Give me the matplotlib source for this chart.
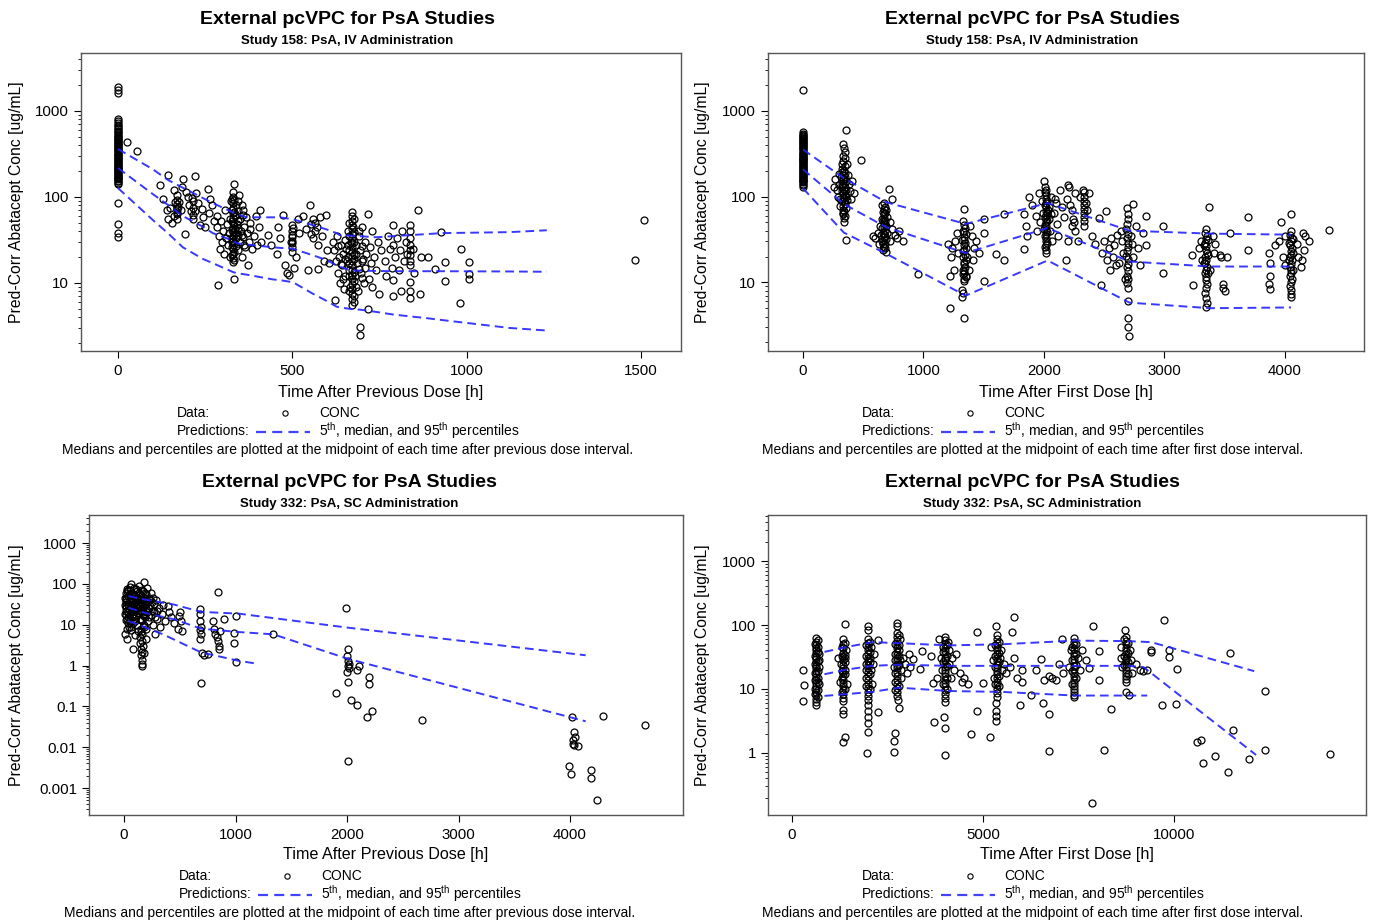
import numpy as np
import matplotlib
matplotlib.use('Agg')
import matplotlib.pyplot as plt
from matplotlib.lines import Line2D
from matplotlib.ticker import FixedLocator, FixedFormatter, LogLocator, NullFormatter

plt.rcParams['font.family'] = ['Liberation Sans', 'DejaVu Sans']
plt.rcParams['mathtext.fontset'] = 'custom'
plt.rcParams['mathtext.rm'] = 'Liberation Sans'

# ---------------- data ----------------
# Study 158, time after previous dose: (time h, pred-corr conc)
tl_obs = [
    (0, 1900), (0, 1750), (0, 1600), (0, 800), (0, 720), (0, 660), (0, 610), (0, 570), (0, 530), (0, 500),
    (0, 470), (0, 445), (0, 420), (0, 400), (0, 380), (0, 360), (0, 340), (0, 320), (0, 305), (0, 290),
    (0, 275), (0, 262), (0, 250), (0, 238), (0, 226), (0, 215), (0, 205), (0, 195), (0, 186), (0, 177),
    (0, 168), (0, 160), (0, 152), (0, 145), (0, 140), (0, 85), (0, 48), (0, 38), (0, 34), (25, 430), (55, 340),
    (0, 155), (0, 164), (0, 172), (0, 182), (0, 190), (0, 200), (0, 210), (0, 220), (0, 232), (0, 244),
    (0, 256), (0, 268), (0, 282), (0, 297), (0, 312), (0, 330), (0, 350), (0, 370), (0, 390), (0, 410),
    (0, 432), (0, 458), (0, 485), (0, 515), (0, 550), (0, 590), (0, 640), (0, 690), (0, 760),
    (120, 138), (143, 180), (187, 162), (221, 174), (168, 105), (168, 92), (168, 82), (168, 72), (168, 63),
    (168, 56), (143, 55), (150, 75), (160, 60), (175, 88), (180, 70), (192, 37), (200, 100), (205, 80),
    (210, 68), (215, 90), (215, 75), (215, 62), (215, 55), (225, 110), (230, 85), (235, 47), (240, 72),
    (245, 58), (258, 123), (260, 65), (265, 95), (270, 80), (275, 52), (250, 45), (185, 130), (195, 115),
    (160, 120), (130, 95), (140, 70), (155, 50), (165, 88), (170, 66), (172, 77), (220, 68), (212, 96),
    (283, 60), (285, 45), (287, 9.5), (290, 35), (292, 25), (295, 52), (298, 30), (300, 40), (305, 22),
    (308, 70), (310, 33), (312, 48), (315, 28), (318, 38), (320, 20), (322, 55), (325, 90), (328, 30),
    (330, 115), (330, 100), (330, 85), (330, 75), (330, 65), (330, 57), (330, 50), (330, 44), (330, 39),
    (330, 35), (330, 31), (330, 28), (330, 25), (330, 22), (330, 19.5), (330, 17.5), (332, 142), (332, 11),
    (335, 60), (336, 42), (338, 33), (340, 27), (340, 80), (342, 48), (345, 36), (345, 24), (348, 105),
    (350, 55), (350, 30), (352, 40), (355, 20), (358, 70), (360, 34), (362, 45), (365, 26), (368, 58),
    (370, 38), (372, 16), (375, 30), (378, 50), (380, 42), (385, 25), (390, 35), (395, 60), (398, 28),
    (405, 45), (410, 30), (326, 95), (326, 70), (326, 53), (326, 41), (326, 33), (326, 26), (326, 21),
    (334, 92), (334, 67), (334, 47), (334, 37), (334, 29), (334, 23), (334, 18.5), (340, 62), (340, 38),
    (345, 90), (345, 68), (345, 52), (345, 44), (355, 80), (355, 36), (360, 62), (362, 28),
    (407, 70), (430, 36), (440, 28), (455, 22), (460, 45), (465, 33), (473, 62), (480, 16), (485, 13),
    (490, 12.5), (495, 30), (500, 47), (500, 40), (500, 34), (500, 29), (500, 26), (500, 23), (505, 15),
    (510, 20), (515, 55), (520, 38), (530, 60), (540, 42), (545, 14), (550, 81), (555, 48), (560, 55),
    (560, 33), (565, 40), (570, 45), (573, 14.6), (575, 28), (580, 58), (585, 35), (590, 18), (598, 62),
    (600, 24), (605, 17), (500, 36), (500, 31), (503, 43), (555, 37), (565, 50),
    (617, 30), (620, 24), (622, 6.3), (625, 18), (628, 35), (630, 13), (632, 27), (635, 20), (638, 10),
    (640, 28), (642, 16), (645, 22), (648, 8.5), (650, 32), (652, 12), (655, 25), (658, 18), (660, 40),
    (662, 14), (665, 9), (668, 30), (670, 67), (670, 60), (670, 53), (670, 47), (670, 42), (670, 37),
    (670, 33), (670, 29), (670, 26), (670, 23), (670, 20.5), (670, 18), (670, 16), (670, 14), (670, 12.5),
    (670, 11), (670, 9.8), (670, 8.6), (670, 7.5), (670, 6.5), (670, 5.5), (675, 45), (678, 21), (680, 12),
    (682, 28), (685, 17), (688, 8), (690, 35), (693, 3.1), (693, 2.5), (695, 24), (698, 13), (700, 45),
    (702, 19), (705, 10), (708, 30), (710, 15), (712, 22), (716, 63), (716, 5.0), (720, 11), (722, 26),
    (725, 17), (728, 40), (730, 9), (735, 20), (740, 14), (745, 30), (750, 7.5), (755, 24),
    (664, 50), (664, 35), (664, 24), (664, 17), (664, 12), (664, 8), (676, 55), (676, 39), (676, 30),
    (676, 19), (676, 13.5), (676, 10.5), (676, 7), (676, 6), (660, 20), (684, 22), (684, 9), (690, 14.5),
    (650, 19), (645, 11), (700, 27), (700, 11.5), (640, 16.5), (660, 28), (690, 40), (700, 18),
    (765, 18), (770, 12), (775, 35), (780, 25), (785, 15), (788, 47), (788, 10.7), (788, 7), (790, 28),
    (795, 20), (800, 33), (805, 14), (810, 24), (812, 8), (815, 40), (820, 18), (825, 30), (830, 22),
    (837, 47), (837, 40), (837, 33), (837, 28), (837, 24), (837, 21), (837, 18), (837, 16), (837, 10.3),
    (837, 8), (837, 6.6), (845, 25), (850, 13), (860, 71), (865, 7.5), (870, 20), (888, 20), (908, 14.6),
    (928, 39), (937, 17.5), (937, 10.6), (985, 25), (982, 5.8), (1006, 17.5), (1006, 12.8), (1006, 11),
    (1484, 18.5), (1510, 54),
]
tl_pct_t = [0, 100, 143, 186, 244, 272, 330, 341, 369, 444, 464, 502, 559, 598, 627, 636, 665, 693, 742, 788, 885, 931, 1123, 1230]
tl_p95 = [361, 210, 158, 128, 97, 85, 66, 63, 58, 58, 58, 55, 47, 42, 38, 36, 35.5, 35, 34, 35, 37, 38, 39, 41]
tl_p50 = [217, 108, 81, 60, 45, 38, 31, 29, 28, 26, 25.6, 25, 21, 18.5, 16, 15.5, 14, 13.9, 13.8, 13.7, 13.7, 13.7, 13.6, 13.5]
tl_p05 = [127, 54, 38, 26, 19, 17, 13.4, 13, 12.5, 11, 10.8, 10.2, 7.5, 6.2, 5.3, 5.2, 5.0, 4.9, 4.6, 4.3, 3.9, 3.7, 3.0, 2.8]

# Study 158, time after first dose
tr_obs = [
    (0, 1750), (0, 570), (0, 540), (0, 510), (0, 480), (0, 455), (0, 430), (0, 405), (0, 385), (0, 365),
    (0, 345), (0, 325), (0, 308), (0, 292), (0, 278), (0, 264), (0, 250), (0, 238), (0, 226), (0, 215),
    (0, 205), (0, 195), (0, 185), (0, 175), (0, 166), (0, 158), (0, 150), (0, 142), (0, 135), (0, 130),
    (0, 525), (0, 495), (0, 467), (0, 442), (0, 417), (0, 395), (0, 375), (0, 355), (0, 335), (0, 316),
    (0, 300), (0, 285), (0, 271), (0, 257), (0, 244), (0, 232), (0, 220), (0, 210), (0, 200), (0, 190),
    (0, 180), (0, 170), (0, 162), (0, 154), (0, 146),
    (357, 600), (332, 410), (340, 370), (345, 330), (330, 300), (350, 280), (335, 260), (325, 240), (345, 225),
    (320, 210), (338, 200), (350, 190), (330, 180), (315, 170), (342, 160), (355, 150), (328, 142), (300, 135),
    (345, 128), (360, 120), (320, 115), (335, 110), (350, 104), (290, 100), (340, 96), (365, 92), (325, 88),
    (345, 83), (310, 78), (355, 74), (335, 70), (330, 65), (350, 60), (338, 56), (342, 50), (380, 140),
    (390, 115), (400, 95), (410, 150), (375, 180), (270, 160), (280, 120), (260, 130), (357, 31), (481, 264),
    (420, 110), (300, 185), (365, 240), (330, 155), (336, 135), (340, 120), (332, 100), (338, 90), (330, 78),
    (344, 68), (334, 62), (348, 170), (326, 195), (352, 115), (340, 145), (360, 100), (322, 130), (310, 95),
    (714, 122), (742, 93), (672, 85), (660, 80), (680, 75), (690, 70), (665, 66), (675, 62), (700, 58),
    (655, 55), (685, 52), (670, 49), (690, 46), (660, 43), (680, 40), (700, 38), (650, 36), (675, 34),
    (690, 32), (660, 30), (680, 28), (672, 26), (665, 24), (690, 22.5), (640, 45), (620, 38), (600, 33),
    (580, 35), (630, 28), (720, 50), (740, 42), (760, 36), (780, 33), (830, 30.5), (800, 40), (720, 30),
    (954, 12.6), (672, 72), (672, 57), (672, 44), (672, 37), (672, 31), (682, 64), (682, 48), (682, 35),
    (682, 25), (664, 52), (664, 38), (664, 28),
    (1336, 72), (1330, 52), (1340, 47), (1345, 43), (1325, 40), (1350, 37), (1335, 34), (1320, 31),
    (1345, 29), (1338, 27), (1355, 25), (1330, 23), (1342, 21), (1325, 19.5), (1350, 18), (1335, 16.5),
    (1345, 15), (1328, 14), (1340, 13), (1355, 12), (1333, 11), (1340, 10.5), (1320, 8.1), (1330, 7.5),
    (1320, 6.8), (1220, 5), (1336, 3.8), (1260, 30), (1280, 38), (1240, 25), (1230, 20), (1200, 28),
    (1250, 14), (1220, 12), (1400, 35), (1420, 25), (1410, 18), (1440, 30), (1460, 22), (1380, 14),
    (1502, 55), (1502, 38), (1502, 10.5), (1602, 21.6), (1668, 18), (1668, 63), (1290, 22), (1390, 45),
    (1340, 39), (1340, 31), (1340, 24), (1340, 17.5), (1340, 13.5), (1350, 11.5), (1330, 12.5), (1360, 20),
    (1834, 63), (1834, 24.5), (1850, 45), (1860, 35), (1880, 100), (1900, 80), (1930, 60), (1960, 110),
    (1980, 90), (2000, 150), (2010, 130), (2017, 120), (2017, 105), (2017, 95), (2017, 85), (2017, 76),
    (2017, 68), (2017, 61), (2017, 55), (2017, 50), (2017, 45), (2017, 41), (2017, 37), (2017, 33),
    (2017, 30), (2017, 27), (2017, 24), (2017, 22), (2030, 70), (2040, 55), (2050, 40), (2060, 100),
    (2080, 65), (2100, 85), (2110, 48), (2130, 120), (2150, 75), (2170, 58), (2183, 18), (2190, 95),
    (2210, 130), (2230, 70), (2250, 50), (2260, 110), (1990, 65), (2000, 42), (1970, 50), (1940, 40),
    (2070, 30), (2120, 35), (2005, 112), (2005, 80), (2005, 58), (2005, 47), (2005, 35), (2005, 26),
    (2028, 90), (2028, 64), (2028, 52), (2028, 39), (2028, 29), (2040, 75), (2060, 62), (2090, 95),
    (2200, 135), (2220, 80), (2240, 55), (2260, 40), (2280, 30), (2300, 100), (2320, 120), (2332, 112),
    (2332, 100), (2332, 90), (2332, 80), (2332, 72), (2332, 64), (2332, 58), (2332, 52), (2332, 46),
    (2345, 85), (2360, 70), (2370, 110), (2200, 30), (2230, 45),
    (2400, 35), (2420, 28), (2456, 56), (2473, 9.2), (2480, 22), (2500, 30), (2514, 68), (2520, 18),
    (2540, 25), (2550, 14), (2560, 33), (2570, 20), (2580, 27), (2600, 16), (2610, 36),
    (2739, 82), (2690, 74), (2695, 62), (2700, 55), (2690, 48), (2685, 42), (2700, 37), (2690, 33),
    (2695, 29), (2700, 26), (2690, 23), (2685, 20.5), (2695, 18.5), (2700, 16.5), (2690, 15), (2695, 13.5),
    (2690, 12), (2700, 11), (2690, 9.8), (2695, 8.7), (2697, 6), (2697, 3.8), (2700, 3.0), (2705, 2.4),
    (2650, 30), (2660, 22), (2640, 40), (2720, 35), (2730, 28), (2740, 20), (2760, 45), (2780, 25),
    (2846, 60), (2846, 27), (2988, 45), (2988, 13), (2800, 16), (2820, 38), (2620, 17), (2670, 11),
    (3369, 76), (3344, 42), (3340, 38), (3350, 35), (3345, 32), (3338, 29), (3348, 26.5), (3342, 24),
    (3352, 22), (3340, 20), (3346, 18.3), (3338, 16.8), (3350, 15.3), (3344, 14), (3340, 12.8), (3348, 11.7),
    (3342, 10.6), (3350, 9.5), (3344, 8.5), (3340, 7.5), (3346, 6.6), (3350, 5.8), (3344, 5.2), (3230, 21),
    (3237, 9.2), (3300, 30), (3310, 18), (3290, 25), (3400, 35), (3410, 22), (3420, 28), (3380, 14),
    (3460, 21), (3470, 20), (3485, 9.6), (3490, 8.6), (3500, 8), (3520, 20), (3540, 38), (3693, 58), (3693, 24),
    (3360, 31), (3360, 21), (3360, 13), (3330, 27), (3330, 17),
    (4050, 63), (3970, 50), (4050, 40), (4045, 36), (4055, 33), (4050, 30), (4040, 27), (4058, 25),
    (4048, 23), (4052, 21), (4044, 19.5), (4056, 18), (4050, 16.5), (4046, 15), (4054, 14), (4050, 13),
    (4042, 12), (4058, 11), (4050, 10), (4046, 9), (4054, 8.2), (4050, 7.4), (4048, 6.8), (3870, 22),
    (3875, 17), (3880, 12), (3870, 9.6), (3875, 8.4), (3950, 30), (3980, 20), (4000, 35), (4100, 28),
    (4110, 20), (4130, 15), (4150, 38), (4170, 35), (4160, 24), (4140, 18), (4200, 30), (4365, 41),
    (3920, 27), (4000, 16), (4065, 32), (4065, 22), (4065, 14), (4030, 29), (4030, 18),
]
tr_pct_t = [0, 340, 690, 1350, 2030, 2710, 3380, 4050]
tr_p95 = [354, 164, 86, 48, 84, 40, 37, 36]
tr_p50 = [208, 82, 44, 22, 43, 17.5, 15.3, 15.3]
tr_p05 = [125, 38, 21.6, 7.0, 18, 5.8, 5.0, 5.1]

# Study 332, time after previous dose
bl_obs = [
    (20, 60), (20, 45), (20, 35), (20, 28), (20, 22), (20, 17), (20, 13), (25, 8), (30, 4.4), (10, 6),
    (15, 25), (15, 40), (35, 50), (35, 30), (35, 20), (35, 15), (40, 70), (40, 11), (45, 38), (45, 24),
    (50, 55), (50, 18), (55, 32), (55, 12), (60, 100), (60, 45), (60, 27), (65, 20), (65, 9), (70, 36),
    (70, 15), (75, 60), (78, 2.5), (80, 25), (80, 42), (85, 18), (90, 80), (90, 32), (95, 12), (100, 50),
    (100, 22), (105, 28), (110, 38), (110, 16), (115, 65), (120, 25), (120, 10), (125, 45), (130, 19),
    (130, 33), (135, 90), (140, 14), (140, 55), (145, 5), (145, 3.5), (148, 2.5), (150, 8), (150, 28),
    (150, 40), (155, 1.8), (155, 22), (160, 1.1), (160, 0.95), (160, 70), (160, 35), (165, 13), (165, 6),
    (170, 3), (170, 48), (175, 18), (175, 28), (180, 110), (180, 2), (180, 9), (185, 60), (185, 38),
    (190, 15), (195, 24), (200, 32), (200, 4.5), (205, 80), (210, 20), (215, 12), (220, 45), (230, 28),
    (240, 17), (250, 35), (260, 10), (270, 22), (280, 6), (290, 40), (300, 14), (310, 25), (320, 9),
    (340, 18), (350, 30), (370, 12), (390, 28), (400, 20), (420, 15), (450, 11), (480, 8), (505, 20),
    (510, 12), (520, 7), (490, 16), (30, 75), (50, 85), (70, 50), (110, 75), (140, 42), (170, 65),
    (125, 7), (95, 5.5), (60, 7.5), (200, 55), (230, 40), (260, 45), (180, 16), (130, 60),
    (5, 30), (5, 18), (10, 45), (25, 65), (28, 14), (45, 9), (55, 70), (65, 40), (75, 22), (85, 30),
    (85, 11), (100, 35), (105, 17), (115, 45), (125, 30), (135, 22), (145, 30), (150, 13), (155, 50),
    (160, 25), (165, 4), (170, 20), (175, 10), (185, 30), (190, 45), (195, 8), (210, 35), (220, 25),
    (225, 15), (240, 60), (250, 22), (270, 32), (280, 15), (300, 22), (160, 1.4), (165, 2.2), (150, 6.5),
    (680, 24), (680, 18), (685, 12), (690, 9), (680, 7.5), (690, 6), (685, 4.4), (692, 0.37), (700, 2.0),
    (720, 1.8), (750, 1.9), (800, 12), (810, 8), (820, 6), (830, 5), (840, 4), (846, 64), (850, 3),
    (855, 2.5), (860, 7), (897, 14), (1000, 16), (983, 6.3), (983, 3.6), (1000, 1.2), (1340, 5.8),
    (1995, 26), (2005, 2.5), (2000, 1.7), (2005, 1.3), (2010, 1.0), (2015, 0.85), (2000, 0.7), (2020, 1.1),
    (2090, 0.77), (2110, 0.95), (2193, 0.51), (2200, 0.35), (2010, 0.39), (1903, 0.21), (2040, 0.145),
    (2090, 0.107), (2227, 0.079), (2176, 0.054), (2005, 0.0046), (2670, 0.047),
    (4017, 0.054), (4034, 0.023), (4040, 0.018), (4030, 0.015), (4025, 0.012), (4068, 0.0105), (4035, 0.011),
    (3993, 0.0035), (4010, 0.0022), (4188, 0.0027), (4188, 0.0018), (4239, 0.00052), (4300, 0.059),
    (4672, 0.034),
]
bl_p95_t = [40, 170, 450, 690, 1030, 2000, 4140]
bl_p95 = [50, 42, 31, 20.6, 18.6, 8.5, 1.78]
bl_p50_t = [40, 170, 450, 690, 1030, 1340, 2000, 4140]
bl_p50 = [26, 20, 13.5, 8, 6.6, 5.8, 1.48, 0.043]
bl_p05_t = [40, 170, 350, 690, 1030, 1200]
bl_p05 = [12.3, 9, 5.8, 2.1, 1.3, 1.1]

# Study 332, time after first dose
br_obs = [
    (640, 62), (640, 55), (640, 49), (640, 44), (640, 40), (640, 36), (640, 32), (640, 29), (640, 26),
    (640, 23), (640, 21), (640, 19), (640, 17), (640, 15.5), (640, 14), (640, 12.5), (640, 11), (640, 10),
    (640, 9), (640, 8), (640, 7), (640, 6.2), (630, 5.6), (296, 19.6), (326, 11.7), (296, 6.6), (700, 35),
    (700, 22), (690, 15), (720, 28), (720, 12), (680, 45), (610, 18), (600, 25), (600, 10),
    (680, 58), (680, 38), (680, 27), (680, 19), (680, 13), (680, 9.5), (680, 7.5), (600, 50), (600, 33),
    (600, 14), (600, 8.5),
    (1340, 60), (1340, 50), (1340, 43), (1340, 37), (1340, 32), (1340, 28), (1340, 24), (1340, 21),
    (1340, 18), (1340, 16), (1340, 14), (1340, 12.5), (1340, 11), (1340, 9.5), (1340, 8.3), (1340, 7.2),
    (1340, 6.5), (1383, 104), (1333, 4.7), (1333, 4.0), (1383, 1.78), (1333, 1.5), (1400, 30), (1400, 20),
    (1420, 40), (1290, 25), (1300, 15), (1450, 12), (1250, 13), (1200, 30), (1380, 52), (1380, 34),
    (1380, 26), (1380, 17), (1380, 10), (1300, 45), (1300, 33), (1300, 19), (1300, 9),
    (1990, 95), (1990, 85), (1990, 60), (1990, 52), (1990, 45), (1990, 40), (1990, 35), (1990, 31),
    (1990, 27), (1990, 24), (1990, 21), (1990, 18.5), (1990, 16), (1990, 14), (1990, 12), (1990, 10.5),
    (1990, 9), (1990, 7.8), (1990, 6.8), (1988, 5.7), (1988, 4.5), (1988, 3.7), (2240, 4.3), (1988, 2.9),
    (1988, 2.1), (1957, 1.0), (2240, 59), (2050, 30), (2060, 20), (2080, 45), (1930, 25), (1940, 15),
    (2120, 25), (2100, 12), (2150, 35), (2040, 55), (2040, 38), (2040, 26), (2040, 17), (2040, 10),
    (1940, 48), (1940, 33), (1940, 20), (1940, 11),
    (2743, 107), (2750, 95), (2750, 75), (2750, 65), (2750, 56), (2750, 49), (2750, 43), (2750, 38),
    (2750, 34), (2750, 30), (2750, 27), (2750, 24), (2750, 21), (2750, 18.5), (2750, 16), (2750, 14),
    (2750, 12), (2750, 10.5), (2750, 9), (2750, 7.8), (2793, 5.0), (2693, 2.05), (2672, 1.56), (2672, 1.05),
    (2800, 40), (2820, 28), (2850, 20), (2700, 35), (2680, 22), (2690, 13), (2830, 60), (2860, 15),
    (2900, 30), (2950, 25), (3000, 18), (3050, 35), (3100, 22), (3176, 29), (3397, 39), (3347, 20.6),
    (3649, 33), (3679, 12.4), (3720, 3.0), (2780, 6.8), (2700, 50), (2700, 28), (2700, 18), (2700, 9.5),
    (2800, 70), (2800, 48), (2800, 33), (2800, 24), (2800, 11),
    (4000, 65), (4000, 58), (4000, 50), (4000, 44), (4000, 39), (4000, 35), (4000, 31), (4000, 28),
    (4000, 25), (4000, 22), (4000, 20), (4000, 18), (4000, 16), (4000, 14), (4000, 12.5), (4000, 11),
    (4000, 9.5), (4000, 8.3), (4000, 7.2), (4000, 6.3), (3981, 3.7), (4001, 2.5), (4001, 0.92), (3900, 30),
    (3920, 20), (3950, 45), (4100, 40), (4120, 25), (4150, 15), (4080, 55), (4200, 30), (4253, 20),
    (4455, 13), (4686, 2.0), (4300, 35), (4400, 18), (4500, 15), (4600, 12), (3800, 15), (3850, 60),
    (4060, 48), (4060, 33), (4060, 23), (4060, 15), (4060, 10), (3940, 38), (3940, 26), (3940, 12),
    (5340, 95), (5370, 70), (5370, 60), (5370, 52), (5370, 45), (5370, 40), (5370, 35), (5370, 31),
    (5370, 27), (5370, 24), (5370, 21), (5370, 19), (5370, 17), (5370, 15), (5370, 13), (5370, 11.5),
    (5370, 10), (5370, 8.7), (5370, 7.5), (5340, 6), (5340, 4.5), (5340, 3.8), (5340, 3.2), (4837, 79),
    (4837, 4.5), (5008, 12.4), (5190, 1.76), (5450, 30), (5500, 20), (5480, 40), (5550, 25), (5600, 18),
    (5250, 28), (5200, 45), (5300, 15), (5764, 77), (5814, 135), (5965, 5.7), (6015, 20), (6015, 13),
    (6267, 8.1), (5700, 22), (5800, 30), (5900, 15), (5430, 55), (5430, 36), (5430, 26), (5430, 16),
    (5430, 11), (5310, 48), (5310, 33), (5310, 22), (5310, 12),
    (7073, 60), (7380, 62), (7380, 55), (7380, 48), (7380, 42), (7380, 37), (7380, 33), (7380, 29),
    (7380, 26), (7380, 23), (7380, 20.5), (7380, 18), (7380, 16), (7380, 14), (7380, 12.5), (7380, 11),
    (7380, 10), (7380, 9), (7380, 8.2), (7380, 7.4), (6519, 29), (6569, 6), (6720, 16), (6730, 1.06),
    (6720, 4), (6800, 15), (6900, 14), (7000, 25), (7100, 18), (7500, 30), (7550, 20), (7600, 40),
    (7700, 28), (7778, 21), (7878, 98), (8029, 39), (8029, 14), (8160, 1.13), (7858, 0.165), (8362, 4.9),
    (7300, 40), (7250, 22), (6400, 20), (6600, 14), (7440, 50), (7440, 35), (7440, 24), (7440, 15),
    (7320, 45), (7320, 28), (7320, 19), (7320, 12),
    (8714, 85), (8740, 65), (8740, 57), (8740, 50), (8740, 44), (8740, 39), (8740, 35), (8740, 31),
    (8740, 28), (8740, 25), (8740, 22), (8740, 20), (8740, 18), (8740, 16), (8740, 14.5), (8740, 13),
    (8734, 8.9), (8835, 8.1), (8600, 30), (8620, 45), (8650, 22), (8850, 40), (8880, 28), (8900, 18),
    (9000, 25), (9100, 20), (9200, 19), (9288, 20), (9389, 41), (9389, 38), (9741, 118), (9872, 41),
    (9872, 32), (10074, 20.5), (9690, 5.6), (10044, 5.8), (10598, 1.47), (10719, 1.58), (10749, 0.71),
    (11081, 0.89), (11403, 0.5), (11554, 2.3), (11453, 37), (11957, 0.81), (12390, 9.4), (12390, 1.1),
    (14072, 0.96), (8800, 53), (8800, 37), (8800, 26), (8800, 17), (8680, 60), (8680, 33), (8680, 24),
]
br_p95_t = [850, 1400, 2100, 2800, 4100, 5500, 7400, 8800, 9400, 12100]
br_p95 = [38, 45, 54, 52, 48, 50, 57, 56, 54, 19]
br_p50_t = [850, 1400, 2100, 2800, 4100, 5500, 7400, 8800, 9200, 12150]
br_p50 = [17, 20, 23, 24, 23, 23, 23, 23, 22, 0.93]
br_p05_t = [850, 1400, 2100, 2800, 4100, 5500, 7400, 8800, 9300]
br_p05 = [7.8, 8.3, 9, 10.5, 9.3, 9.0, 7.9, 7.9, 7.9]

TITLE = 'External pcVPC for PsA Studies'
YLAB = 'Pred-Corr Abatacept Conc [ug/mL]'
FOOT_PREV = 'Medians and percentiles are plotted at the midpoint of each time after previous dose interval.'
FOOT_FIRST = 'Medians and percentiles are plotted at the midpoint of each time after first dose interval.'
PCT_TXT = r'5$^{\rm th}$, median, and 95$^{\rm th}$ percentiles'

W, H = 1373, 921
BLUE = '#2222ff'


def fx(x):
    return x / W


def fy(y):
    return 1 - y / H


fig = plt.figure(figsize=(W / 100, H / 100), dpi=100)


def panel(box, obs, lines, xlim, ylim, xticks, yticks, xlabel, subtitle, cx, y0, foot, leg_x, ylab_x):
    l, t, r, b = box
    ax = fig.add_axes([fx(l), fy(b), (r - l) / W, (b - t) / H])
    ax.set_yscale('log')
    tt, cc = zip(*obs)
    ax.plot(tt, cc, 'o', ls='none', mfc='none', mec='black', ms=5.0, mew=0.9, zorder=2)
    for lt, lc in lines:
        ax.plot(lt, lc, color=BLUE, lw=1.4, dashes=(4.5, 2.6), alpha=0.9, zorder=3)
    ax.set_xlim(*xlim)
    ax.set_ylim(*ylim)
    ax.set_xticks(xticks)
    ax.set_xticklabels([str(v) for v in xticks])
    ax.yaxis.set_major_locator(FixedLocator(yticks))
    ax.yaxis.set_major_formatter(FixedFormatter([('%g' % v) for v in yticks]))
    ax.yaxis.set_minor_locator(LogLocator(base=10, subs=np.arange(2, 10), numticks=60))
    ax.yaxis.set_minor_formatter(NullFormatter())
    ax.tick_params(which='major', direction='out', length=5, width=0.8, labelsize=10.8, pad=3.5)
    ax.tick_params(which='minor', direction='out', length=2.5, width=0.6)
    ax.tick_params(axis='x', pad=4.5)
    for s in ax.spines.values():
        s.set_color('#555555')
        s.set_linewidth(1.0)
    ax.set_xlabel(xlabel, fontsize=11.6, va='center')
    ax.xaxis.set_label_coords(0.5, (b - (y0 + 374)) / (b - t))
    ax.set_ylabel(YLAB, fontsize=11.3, va='center')
    ax.yaxis.set_label_coords((ylab_x - l) / (r - l), 0.5)

    fig.text(fx(cx), fy(y0 + 1), TITLE, ha='center', va='center', fontsize=14, fontweight='bold')
    fig.text(fx(cx), fy(y0 + 23), subtitle, ha='center', va='center', fontsize=9.5, fontweight='bold')
    # legend block
    dy1, dy2, dy3 = y0 + 395, y0 + 413, y0 + 432
    fig.text(fx(leg_x), fy(dy1), 'Data:', ha='left', va='center', fontsize=10)
    fig.add_artist(Line2D([fx(leg_x + 108)], [fy(dy1)], transform=fig.transFigure, marker='o',
                          ls='none', mfc='none', mec='black', ms=3.8, mew=0.8))
    fig.text(fx(leg_x + 142), fy(dy1), 'CONC', ha='left', va='center', fontsize=10)
    fig.text(fx(leg_x), fy(dy2), 'Predictions:', ha='left', va='center', fontsize=10)
    fig.add_artist(Line2D([fx(leg_x + 79), fx(leg_x + 133)], [fy(dy2 + 1), fy(dy2 + 1)],
                          transform=fig.transFigure, color=BLUE, lw=1.6, dashes=(4.5, 2.8), alpha=0.85))
    fig.text(fx(leg_x + 142), fy(dy2), PCT_TXT, ha='left', va='center', fontsize=10)
    fig.text(fx(cx + 1), fy(dy3), foot, ha='center', va='center', fontsize=10)
    return ax


panel((81, 53, 681, 351), tl_obs,
      [(tl_pct_t, tl_p95), (tl_pct_t, tl_p50), (tl_pct_t, tl_p05)],
      (-106, 1615), (10 ** 0.209, 10 ** 3.674), [0, 500, 1000, 1500], [10, 100, 1000],
      'Time After Previous Dose [h]', 'Study 158: PsA, IV Administration', 347, 18, FOOT_PREV, 177, 17)

panel((768, 53, 1364, 351), tr_obs,
      [(tr_pct_t, tr_p95), (tr_pct_t, tr_p50), (tr_pct_t, tr_p05)],
      (-290, 4656), (10 ** 0.20, 10 ** 3.674), [0, 1000, 2000, 3000, 4000], [10, 100, 1000],
      'Time After First Dose [h]', 'Study 158: PsA, IV Administration', 1032, 18, FOOT_FIRST, 862, 703)

panel((89, 515, 683, 815), bl_obs,
      [(bl_p95_t, bl_p95), (bl_p50_t, bl_p50), (bl_p05_t, bl_p05)],
      (-314, 5013), (10 ** -3.661, 10 ** 3.686), [0, 1000, 2000, 3000, 4000],
      [0.001, 0.01, 0.1, 1, 10, 100, 1000],
      'Time After Previous Dose [h]', 'Study 332: PsA, SC Administration', 349, 481, FOOT_PREV, 179, 17)

panel((768, 515, 1366, 815), br_obs,
      [(br_p95_t, br_p95), (br_p50_t, br_p50), (br_p05_t, br_p05)],
      (-628, 15026), (10 ** -0.969, 10 ** 3.719), [0, 5000, 10000], [1, 10, 100, 1000],
      'Time After First Dose [h]', 'Study 332: PsA, SC Administration', 1032, 481, FOOT_FIRST, 862, 703)

fig.savefig('out.png', dpi=100)
